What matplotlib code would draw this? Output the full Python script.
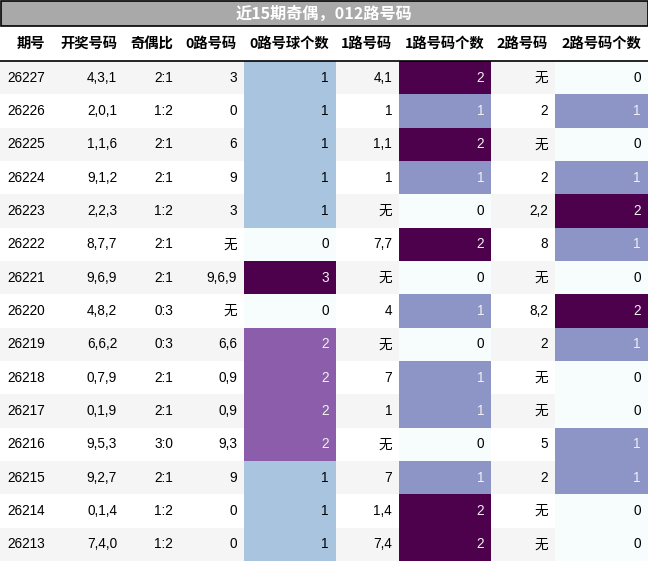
import numpy as np
import matplotlib
matplotlib.use("Agg")
import matplotlib.pyplot as plt
import matplotlib.patches as patches
from matplotlib import colors as mcolors

title = "近15期奇偶，012路号码"
headers = ["期号", "开奖号码", "奇偶比", "0路号码", "0路号球个数", "1路号码", "1路号码个数", "2路号码", "2路号码个数"]
periods = ["26227", "26226", "26225", "26224", "26223", "26222", "26221", "26220",
           "26219", "26218", "26217", "26216", "26215", "26214", "26213"]
draws = ["4,3,1", "2,0,1", "1,1,6", "9,1,2", "2,2,3", "8,7,7", "9,6,9", "4,8,2",
         "6,6,2", "0,7,9", "0,1,9", "9,5,3", "9,2,7", "0,1,4", "7,4,0"]
parity = ["2:1", "1:2", "2:1", "2:1", "1:2", "2:1", "2:1", "0:3",
          "0:3", "2:1", "2:1", "3:0", "2:1", "1:2", "1:2"]
road0 = ["3", "0", "6", "9", "3", "无", "9,6,9", "无", "6,6", "0,9", "0,9", "9,3", "9", "0", "0"]
road0_cnt = [1, 1, 1, 1, 1, 0, 3, 0, 2, 2, 2, 2, 1, 1, 1]
road1 = ["4,1", "1", "1,1", "1", "无", "7,7", "无", "4", "无", "7", "1", "无", "7", "1,4", "7,4"]
road1_cnt = [2, 1, 2, 1, 0, 2, 0, 1, 0, 1, 1, 0, 1, 2, 2]
road2 = ["无", "2", "无", "2", "2,2", "8", "无", "8,2", "2", "无", "无", "5", "2", "无", "无"]
road2_cnt = [0, 1, 0, 1, 2, 1, 0, 2, 1, 0, 0, 1, 1, 0, 0]

columns = [periods, draws, parity, road0, road0_cnt, road1, road1_cnt, road2, road2_cnt]
gradient_cols = {4, 6, 8}

# layout in pixels
W, H = 648, 561
col_w = [52, 72, 56, 64, 92, 63, 92, 64, 93]
title_h = 25
head_h = 36
nrows = len(periods)
row_h = (H - title_h - head_h) / nrows
pad = 7

body_font = ["Liberation Sans", "Noto Sans CJK SC", "DejaVu Sans"]
cjk_font = ["Noto Sans CJK SC", "DejaVu Sans"]

cmap = plt.get_cmap("BuPu")


def rel_lum(c):
  rgb = np.array(mcolors.to_rgb(c))
  lin = np.where(rgb <= 0.04045, rgb / 12.92, ((rgb + 0.055) / 1.055) ** 2.4)
  return 0.2126 * lin[0] + 0.7152 * lin[1] + 0.0722 * lin[2]


fig = plt.figure(figsize=(W / 100, H / 100), dpi=100)
ax = fig.add_axes([0, 0, 1, 1])
ax.set_xlim(0, W)
ax.set_ylim(H, 0)
ax.set_axis_off()

# title bar
ax.add_patch(patches.Rectangle((0.5, 0.5), W - 1, title_h, facecolor="#a9a9a9",
                               edgecolor="black", lw=1.2, zorder=3))
ax.text(W / 2, title_h / 2 + 1, title, ha="center", va="center", color="white",
        fontsize=11.6, fontweight="bold", family=cjk_font, zorder=4)

# header
xs = np.concatenate([[0], np.cumsum(col_w)])
hy = title_h + head_h / 2 + 1
for j, h in enumerate(headers):
  ax.text(xs[j + 1] - pad, hy, h, ha="right", va="center", fontsize=10.3,
          fontweight="bold", family=cjk_font, color="black", zorder=4)
ax.plot([0, W], [title_h + head_h, title_h + head_h], color="black", lw=1.2, zorder=5)

# body
y0 = title_h + head_h
for i in range(nrows):
  top = y0 + i * row_h
  stripe = "#f5f5f5" if i % 2 == 0 else "white"
  ax.add_patch(patches.Rectangle((0, top), W, row_h, facecolor=stripe, lw=0, zorder=1))
  for j, col in enumerate(columns):
    val = col[i]
    tcolor = "black"
    if j in gradient_cols:
      vmin, vmax = min(col), max(col)
      fc = cmap((val - vmin) / (vmax - vmin))
      ax.add_patch(patches.Rectangle((xs[j], top), col_w[j], row_h, facecolor=fc,
                                     lw=0, zorder=2))
      if rel_lum(fc) < 0.408:
        tcolor = "#f1f1f1"
    ax.text(xs[j + 1] - pad, top + row_h / 2, str(val), ha="right", va="center",
            fontsize=9.8, family=body_font, color=tcolor, zorder=4)

fig.savefig("out.png", dpi=100)
